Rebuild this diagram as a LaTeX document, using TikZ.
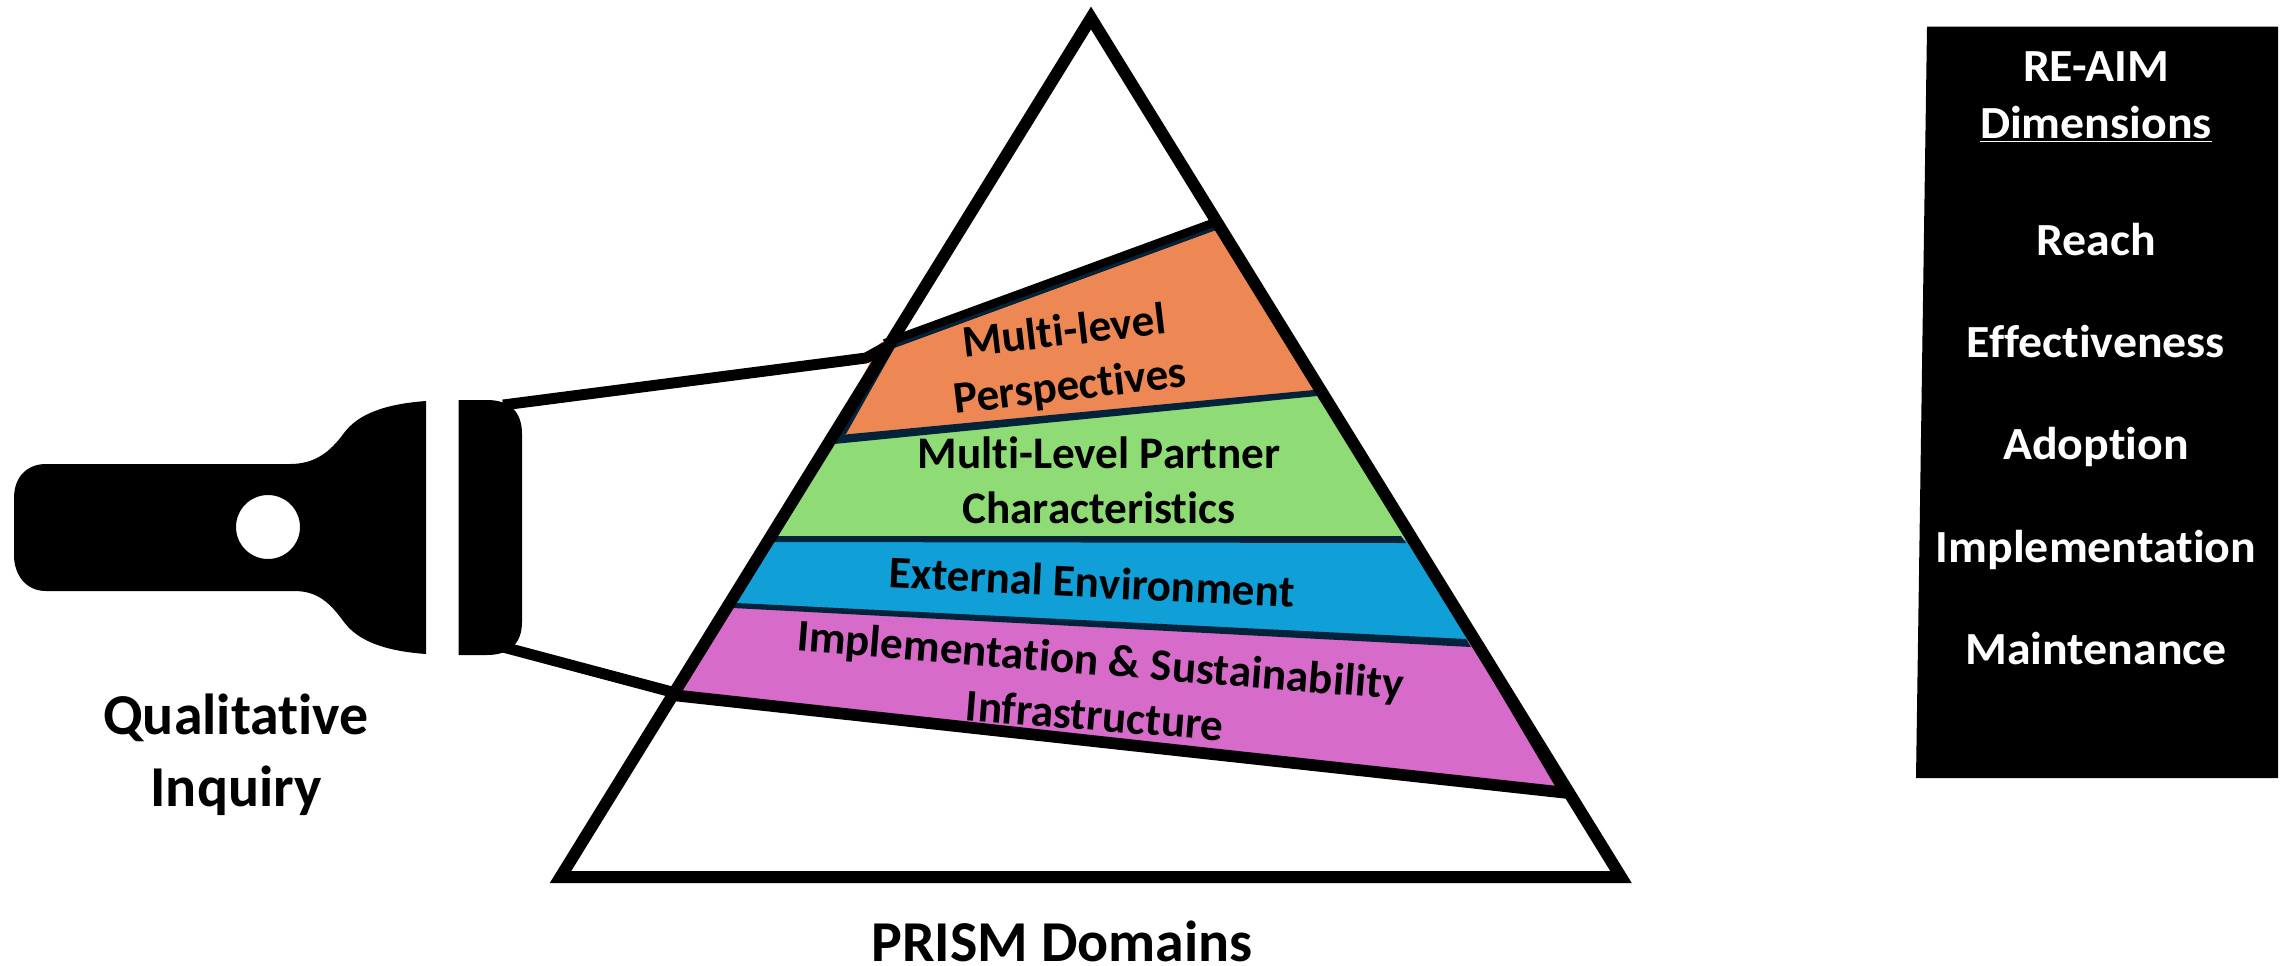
\documentclass[tikz,border=0pt]{standalone}
\usepackage{fontspec}
\setmainfont[Ligatures=NoCommon]{Carlito}
\definecolor{orangeband}{HTML}{ED8753}
\definecolor{greenband}{HTML}{8FDB76}
\definecolor{blueband}{HTML}{119FD7}
\definecolor{pinkband}{HTML}{D66BC9}
\definecolor{stripdark}{HTML}{03233A}
\tikzset{
  pxgrid/.style={x=0.75pt,y=-0.75pt},
  heavyline/.style={line width=9pt,draw=black,line join=miter,miter limit=10},
  beamline/.style={line width=8.2pt,draw=black},
  cutline/.style={line width=8.8pt,draw=black},
  stripfill/.style={fill=stripdark,draw=none},
  biglabel/.style={font=\fontsize{43.4}{46}\selectfont\bfseries,text=black,inner sep=0pt,anchor=center,align=center},
  domlabel/.style={font=\fontsize{33.9}{36}\selectfont\bfseries,text=black,inner sep=0pt,anchor=center,align=center},
  dimlabel/.style={font=\fontsize{34.5}{37}\selectfont\bfseries,text=white,inner sep=0pt,anchor=center,align=center,xscale=1.04},
}
\begin{document}
\begin{tikzpicture}[pxgrid]
\useasboundingbox (0,0) rectangle (2284,965);
\coordinate (apex) at (1091,18);
\coordinate (bl) at (560.5,877);
\coordinate (br) at (1621,877);
\coordinate (lensTop) at (503,405);
\coordinate (lensBot) at (503,647);
\coordinate (beamTopKink) at (866,358);
\coordinate (beamTopEnd) at (886,347);
\coordinate (beamLow) at (672,692);
\coordinate (pinkL) at (672,695);
\coordinate (pinkR) at (1568,793);
\coordinate (cutL) at (885,345);
\coordinate (cutR) at (1215,224);
% bands
\fill[orangeband] (880,343) -- (1215,226) -- (1318,395) -- (830,440) -- cycle;
\fill[greenband] (825,438) -- (1318,392) -- (1408,540) -- (770,540) -- cycle;
\fill[blueband] (770,540) -- (1408,540) -- (1472,645) -- (725,606) -- cycle;
\fill[pinkband] (728,603) -- (1470,642) -- (1565,795) -- (670,695) -- cycle;
% dark strips
\fill[stripfill] (840,435) -- (1314,390) -- (1317,396) -- (834,444) -- cycle;
\fill[stripfill] (778,536) -- (1401,536) -- (1406,543) -- (773,542) -- cycle;
\fill[stripfill] (737,603) -- (1466,639) -- (1471,647) -- (733,608) -- cycle;
\fill[stripfill] (880,347) -- (895,347) -- (846,434) -- (830,440) -- cycle;
% heavy lines
\draw[cutline] (cutL) -- (cutR);
\draw[cutline] (pinkL) -- (pinkR);
\fill[stripfill] (893,348.2) -- (1215,230.2) -- (1215,226.7) -- (893,344.7) -- cycle;
\fill[black] (1470,642) -- (1555,786) -- (1568,786) -- (1483,642) -- cycle;
\draw[heavyline] (apex) -- (br) -- (bl) -- cycle;
\draw[beamline,line join=bevel] (lensTop) -- (beamTopKink) -- (beamTopEnd);
\draw[beamline] (lensBot) -- (beamLow);
% flashlight
\fill[black,even odd rule]
  (46,464) -- (290,464) .. controls (315,464) and (330,452) .. (344,433)
  .. controls (358,414) and (385,404) .. (426,401) -- (426,654)
  .. controls (385,651) and (358,641) .. (344,622)
  .. controls (330,603) and (318,591) .. (294,591) -- (46,591)
  .. controls (26,591) and (14,575) .. (14,555) -- (14,498)
  .. controls (14,478) and (26,464) .. (46,464) -- cycle
  (268,527) circle [radius=32];
\fill[black] (458.5,400) -- (487,400) .. controls (510,400) and (522,412) .. (522,434)
  -- (522,622) .. controls (522,643) and (510,655) .. (487,655) -- (458.5,655) -- cycle;
% panel
\fill[black] (1927,26.5) -- (2278,26.5) -- (2278,778) -- (1916,778) -- cycle;
% labels
\node[biglabel] (qual) at (236,718) {Qualitative};
\node[biglabel] (inq) at (236,791) {Inquiry};
\node[biglabel] (prism) at (1062,941) {PRISM Domains};
\node[domlabel,rotate=6.7] (mp1) at (1064,330) {Multi-level};
\node[domlabel,rotate=6.7] (mp2) at (1070,388) {Perspectives};
\node[domlabel] (pc1) at (1099,453) {Multi-Level Partner};
\node[domlabel] (pc2) at (1099,508) {Characteristics};
\node[domlabel,rotate=-2.8] (ee) at (1092,582) {External Environment};
\node[domlabel,rotate=-4.6] (is1) at (1100,663) {Implementation \& Sustainability};
\node[domlabel,rotate=-4.6] (is2) at (1095,715) {Infrastructure};
\node[dimlabel] (re) at (2096,67) {RE-AIM};
\node[dimlabel] (di) at (2096,124) {\underline{Dimensions}};
\node[dimlabel] (d1) at (2096,240) {Reach};
\node[dimlabel] (d2) at (2096,342) {Effectiveness};
\node[dimlabel] (d3) at (2096,447) {Adoption};
\node[dimlabel] (d4) at (2096,550) {Implementation};
\node[dimlabel] (d5) at (2096,649) {Maintenance};
\end{tikzpicture}
\end{document}
